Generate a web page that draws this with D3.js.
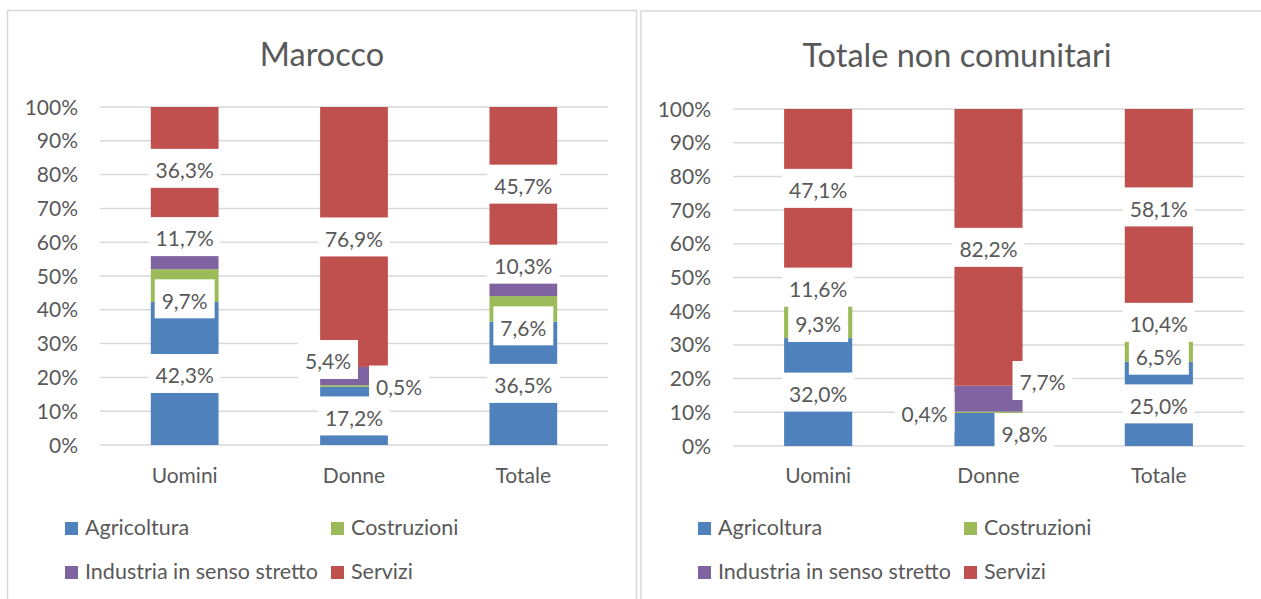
<!DOCTYPE html>
<html>
<head>
<meta charset="utf-8">
<script src="https://cdn.jsdelivr.net/npm/d3@7"></script>
<style>
  body { margin: 0; background: #fff; }
  text { font-family: Lato, "Open Sans", sans-serif; fill: #595959; }
</style>
</head>
<body>
<svg id="chart" width="1261" height="599"></svg>
<script>
// categories, sectors and tick labels
var categories = ["Uomini", "Donne", "Totale"];
var sectors = ["Agricoltura", "Costruzioni", "Industria in senso stretto", "Servizi"];
var yTicks = [0, 10, 20, 30, 40, 50, 60, 70, 80, 90, 100];

// Marocco, share by sector (%)
var maroccoAgricoltura = [42.3, 17.2, 36.5];
var maroccoCostruzioni = [9.7, 0.5, 7.6];
var maroccoIndustria = [11.7, 5.4, 10.3];
var maroccoServizi = [36.3, 76.9, 45.7];

// Totale non comunitari, share by sector (%)
var nonComAgricoltura = [32.0, 9.8, 25.0];
var nonComCostruzioni = [9.3, 0.4, 6.5];
var nonComIndustria = [11.6, 7.7, 10.4];
var nonComServizi = [47.1, 82.2, 58.1];

var sectorColors = ["#4F81BD", "#9BBB59", "#8064A2", "#C0504D"];

// hand-moved data labels: [dx in px, dy in % points], per category then sector
var maroccoNudge = [
  [[0, 0], [0, -3.9], [0, 3.8], [0, 0]],
  [[0, 0], [45, 0.3], [-26, 4.9], [0, 0]],
  [[0, 0], [0, -5.0], [0, 4.3], [0, 0]]
];
var nonComNudge = [
  [[0, 0], [0, 0], [0, 0], [0, 0]],
  [[36, -0.9], [-64, 0], [54, 5.4], [0, 0]],
  [[0, 0], [0, -1.3], [0, 0], [0, 0]]
];

var svg = d3.select("#chart");
var fmt = function (v) { return d3.format(".1f")(v).replace(".", ",") + "%"; };

function drawPanel(p) {
  // outer frame
  svg.append("rect")
    .attr("x", p.frame[0]).attr("y", p.frame[1])
    .attr("width", p.frame[2]).attr("height", 640)
    .attr("fill", "none").attr("stroke", "#D9D9D9").attr("stroke-width", 1.5);

  var g = svg.append("g");

  g.append("text")
    .attr("x", p.titleX).attr("y", p.titleY)
    .attr("text-anchor", "middle")
    .style("font-size", "32.5px")
    .text(p.title);

  var rows = categories.map(function (c, i) {
    var r = { cat: c };
    sectors.forEach(function (s, j) { r[s] = p.series[j][i]; });
    return r;
  });
  var stacked = d3.stack().keys(sectors).offset(d3.stackOffsetExpand)(rows);

  var x = d3.scaleBand().domain(categories)
    .range([p.left, p.right]).paddingInner(0.6).paddingOuter(0.3);
  var y = d3.scaleLinear().domain([0, 100]).range([p.bottom, p.top]);

  // gridlines + tick labels
  g.selectAll(".grid").data(yTicks).enter().append("line")
    .attr("x1", p.left).attr("x2", p.right)
    .attr("y1", function (d) { return y(d); })
    .attr("y2", function (d) { return y(d); })
    .attr("stroke", "#D9D9D9").attr("stroke-width", 1.5);
  g.selectAll(".tick").data(yTicks).enter().append("text")
    .attr("x", p.left - 22)
    .attr("y", function (d) { return y(d) + 7.5; })
    .attr("text-anchor", "end")
    .style("font-size", "21px")
    .text(function (d) { return d + "%"; });

  // bars
  stacked.forEach(function (layer, j) {
    g.selectAll(".bar" + j).data(layer).enter().append("rect")
      .attr("x", function (d) { return x(d.data.cat); })
      .attr("width", x.bandwidth())
      .attr("y", function (d) { return y(d[1] * 100); })
      .attr("height", function (d) { return y(d[0] * 100) - y(d[1] * 100); })
      .attr("fill", sectorColors[j]);
  });

  // data labels with white boxes
  stacked.forEach(function (layer, j) {
    layer.forEach(function (d, i) {
      var nudge = p.nudge[i][j];
      var cx = x(d.data.cat) + x.bandwidth() / 2 + nudge[0];
      var cy = y((d[0] + d[1]) * 50 + nudge[1]);
      var lg = g.append("g");
      var t = lg.append("text")
        .attr("x", cx).attr("y", cy + 9.8)
        .attr("text-anchor", "middle")
        .style("font-size", "21px")
        .text(fmt(p.series[j][i]));
      var w = t.node().getComputedTextLength() + 14;
      lg.insert("rect", "text")
        .attr("x", cx - w / 2).attr("y", cy - 19.5)
        .attr("width", w).attr("height", 39)
        .attr("fill", "#fff");
    });
  });

  // category labels
  g.selectAll(".cat").data(categories).enter().append("text")
    .attr("x", function (d) { return x(d) + x.bandwidth() / 2; })
    .attr("y", 483)
    .attr("text-anchor", "middle")
    .style("font-size", "21px")
    .text(function (d) { return d; });

  // legend, two by two
  var lx = [p.left - 35, p.left + 231];
  var ly = [522, 566];
  sectors.forEach(function (s, j) {
    var sx = lx[j % 2], sy = ly[Math.floor(j / 2)];
    g.append("rect")
      .attr("x", sx).attr("y", sy).attr("width", 13).attr("height", 13)
      .attr("fill", sectorColors[j]);
    g.append("text")
      .attr("x", sx + 20).attr("y", sy + 13)
      .style("font-size", "21.5px")
      .text(s);
  });
}

drawPanel({
  title: "Marocco",
  frame: [7.5, 10.5, 629],
  titleX: 322, titleY: 66,
  left: 100, right: 608, top: 107, bottom: 445,
  series: [maroccoAgricoltura, maroccoCostruzioni, maroccoIndustria, maroccoServizi],
  nudge: maroccoNudge
});

drawPanel({
  title: "Totale non comunitari",
  frame: [641, 11, 660],
  titleX: 957, titleY: 67,
  left: 733, right: 1244, top: 109, bottom: 446,
  series: [nonComAgricoltura, nonComCostruzioni, nonComIndustria, nonComServizi],
  nudge: nonComNudge
});
</script>
</body>
</html>
